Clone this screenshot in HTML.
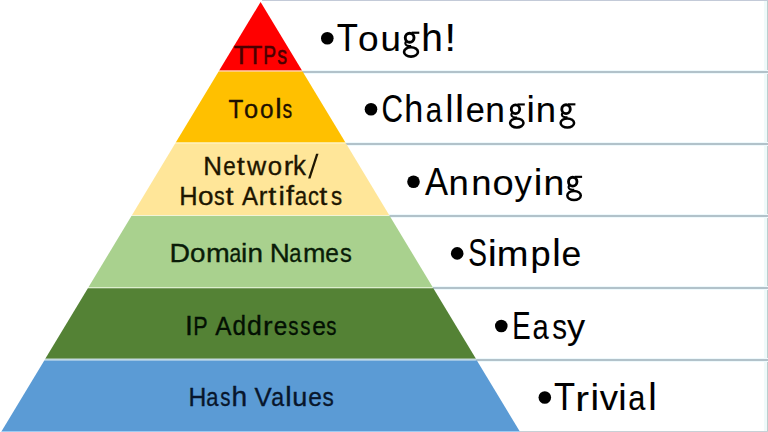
<!DOCTYPE html>
<html><head><meta charset="utf-8">
<style>
html,body{margin:0;padding:0;background:#fff;width:768px;height:432px;overflow:hidden}
svg{display:block;position:absolute;left:0;top:0}
text{font-family:"Liberation Sans",sans-serif}
</style></head><body>
<svg width="768" height="432" viewBox="0 0 768 432">
<rect x="764" y="1" width="3" height="431" fill="#effafa"/>
<rect x="767" y="0" width="1" height="432" fill="#bccece"/>
<rect x="262" y="0" width="506" height="1" fill="#c3cad8"/>
<rect x="301.8" y="70" width="466.2" height="4" fill="#eef9fc"/>
<rect x="301.8" y="71" width="466.2" height="2" fill="#b2c2ca"/>
<rect x="345.3" y="142" width="422.7" height="4" fill="#eef9fc"/>
<rect x="345.3" y="143" width="422.7" height="2" fill="#b2c2ca"/>
<rect x="388.7" y="214" width="379.3" height="4" fill="#eef9fc"/>
<rect x="388.7" y="215" width="379.3" height="2" fill="#b2c2ca"/>
<rect x="432.2" y="286" width="335.8" height="4" fill="#eef9fc"/>
<rect x="432.2" y="287" width="335.8" height="2" fill="#b2c2ca"/>
<rect x="475.7" y="358" width="292.3" height="4" fill="#eef9fc"/>
<rect x="475.7" y="359" width="292.3" height="2" fill="#b2c2ca"/>
<rect x="518.5" y="431" width="249.5" height="1" fill="#c8d0d6"/>
<polygon points="260.6,2.0 302.00,70.6 219.20,70.6" fill="#ff0000"/>
<polygon points="219.20,70.6 302.00,70.6 302.72,71.8 218.48,71.8" fill="#ffc080"/>
<polygon points="218.48,71.8 302.72,71.8 345.45,142.6 175.75,142.6" fill="#ffc000"/>
<polygon points="175.75,142.6 345.45,142.6 346.06,143.6 175.14,143.6" fill="#fff0a8"/>
<polygon points="175.14,143.6 346.06,143.6 389.15,215.0 132.05,215.0" fill="#ffe699"/>
<polygon points="132.05,215.0 389.15,215.0 389.75,216.0 131.45,216.0" fill="#f2f4d6"/>
<polygon points="131.45,216.0 389.75,216.0 432.60,287.0 88.60,287.0" fill="#a9d18e"/>
<polygon points="88.60,287.0 432.60,287.0 433.32,288.2 87.88,288.2" fill="#dcefcc"/>
<polygon points="87.88,288.2 433.32,288.2 475.93,358.8 45.27,358.8" fill="#548235"/>
<polygon points="45.27,358.8 475.93,358.8 476.89,360.4 44.31,360.4" fill="#c0d8e2"/>
<polygon points="44.31,360.4 476.89,360.4 519.50,431.0 1.70,431.0" fill="#5b9bd5"/>
<polygon points="1.70,431.0 519.50,431.0 520.11,432.0 1.10,432.0" fill="#9ccbf2"/>
<g fill="#4a0000" stroke="#4a0000" stroke-width="0.55" font-size="26.7">
<text x="250.27" y="63.60" transform="scale(0.9340,1.0)">T</text>
<text x="279.26" y="63.60" transform="scale(0.8876,1.0)">T</text>
<text x="365.77" y="63.60" transform="scale(0.7200,1.0)">P</text>
<text x="377.39" y="65.91" transform="scale(0.7344,0.965)">s</text>
</g>
<g fill="#1e1000" stroke="#1e1000" stroke-width="0.35" font-size="26.7">
<text x="251.86" y="118.20" transform="scale(0.9075,1.0)">T</text>
<text x="256.27" y="122.49" transform="scale(0.9519,0.965)">o</text>
<text x="285.00" y="122.49" transform="scale(0.9122,0.965)">o</text>
<text x="254.85" y="114.76" transform="scale(1.0800,1.03)">l</text>
<text x="391.62" y="122.49" transform="scale(0.7215,0.965)">s</text>
</g>
<g fill="#1e1600" stroke="#1e1600" stroke-width="0.35" font-size="26.7">
<text x="209.18" y="174.70" transform="scale(0.9722,1.0)">N</text>
<text x="266.50" y="181.04" transform="scale(0.8381,0.965)">e</text>
<text x="219.24" y="174.70" transform="scale(1.0800,1.0)">t</text>
<text x="248.14" y="181.04" transform="scale(0.9956,0.965)">w</text>
<text x="276.75" y="181.04" transform="scale(0.9677,0.965)">o</text>
<text x="264.85" y="181.04" transform="scale(1.0712,0.965)">r</text>
<text x="303.27" y="169.61" transform="scale(0.9664,1.03)">k</text>
</g>
<g fill="#1e1600" stroke="#1e1600" stroke-width="0.35" font-size="26.7">
<text x="188.23" y="205.30" transform="scale(0.9521,1.0)">H</text>
<text x="189.22" y="212.75" transform="scale(1.0470,0.965)">o</text>
<text x="267.90" y="212.75" transform="scale(0.7988,0.965)">s</text>
<text x="208.87" y="205.30" transform="scale(1.0800,1.0)">t</text>
</g>
<g fill="#1e1600" stroke="#1e1600" stroke-width="0.35" font-size="26.7">
<text x="269.41" y="205.30" transform="scale(0.8981,1.0)">A</text>
<text x="265.84" y="212.75" transform="scale(0.9738,0.965)">r</text>
<text x="248.32" y="205.30" transform="scale(1.0800,1.0)">t</text>
<text x="257.83" y="205.30" transform="scale(1.0800,1.0)">i</text>
<text x="264.83" y="199.32" transform="scale(1.0800,1.03)">f</text>
<text x="352.73" y="212.75" transform="scale(0.8356,0.965)">a</text>
<text x="377.28" y="212.75" transform="scale(0.8166,0.965)">c</text>
<text x="295.70" y="205.30" transform="scale(1.0800,1.0)">t</text>
<text x="397.37" y="212.75" transform="scale(0.8332,0.965)">s</text>
</g>
<g fill="#0a1c08" stroke="#0a1c08" stroke-width="0.35" font-size="26.7">
<text x="159.00" y="261.80" transform="scale(1.0655,1.0)">D</text>
<text x="182.09" y="271.30" transform="scale(1.0431,0.965)">o</text>
<text x="192.79" y="271.30" transform="scale(1.0690,0.965)">m</text>
<text x="291.26" y="271.30" transform="scale(0.7883,0.965)">a</text>
<text x="226.31" y="261.80" transform="scale(1.0653,1.0)">i</text>
<text x="236.80" y="271.30" transform="scale(1.0448,0.965)">n</text>
</g>
<g fill="#0a1c08" stroke="#0a1c08" stroke-width="0.35" font-size="26.7">
<text x="259.53" y="261.80" transform="scale(1.0393,1.0)">N</text>
<text x="352.95" y="271.30" transform="scale(0.8199,0.965)">a</text>
<text x="299.84" y="271.30" transform="scale(1.0102,0.965)">m</text>
<text x="354.46" y="271.30" transform="scale(0.9179,0.965)">e</text>
<text x="384.46" y="271.30" transform="scale(0.8847,0.965)">s</text>
</g>
<g fill="#031003" stroke="#031003" stroke-width="0.35" font-size="26.7">
<text x="173.82" y="334.70" transform="scale(1.0642,1.0)">I</text>
<text x="238.65" y="334.70" transform="scale(0.8093,1.0)">P</text>
</g>
<g fill="#031003" stroke="#031003" stroke-width="0.35" font-size="26.7">
<text x="235.92" y="334.70" transform="scale(0.9122,1.0)">A</text>
<text x="256.10" y="324.95" transform="scale(0.9078,1.03)">d</text>
<text x="247.03" y="324.95" transform="scale(0.9994,1.03)">d</text>
<text x="243.43" y="346.84" transform="scale(1.0800,0.965)">r</text>
<text x="300.76" y="346.84" transform="scale(0.9099,0.965)">e</text>
<text x="376.91" y="346.84" transform="scale(0.7645,0.965)">s</text>
<text x="392.60" y="346.84" transform="scale(0.7645,0.965)">s</text>
<text x="340.08" y="346.84" transform="scale(0.9179,0.965)">e</text>
<text x="429.10" y="346.84" transform="scale(0.7602,0.965)">s</text>
</g>
<g fill="#08162c" stroke="#08162c" stroke-width="0.35" font-size="26.7">
<text x="203.69" y="406.00" transform="scale(0.9253,1.0)">H</text>
<text x="251.71" y="420.73" transform="scale(0.8199,0.965)">a</text>
<text x="287.96" y="420.73" transform="scale(0.7645,0.965)">s</text>
<text x="219.17" y="394.17" transform="scale(1.0565,1.03)">h</text>
</g>
<g fill="#08162c" stroke="#08162c" stroke-width="0.35" font-size="26.7">
<text x="263.18" y="406.00" transform="scale(0.9673,1.0)">V</text>
<text x="312.76" y="420.73" transform="scale(0.8672,0.965)">a</text>
<text x="264.02" y="394.17" transform="scale(1.0800,1.03)">l</text>
<text x="288.33" y="420.73" transform="scale(1.0139,0.965)">u</text>
<text x="335.94" y="420.73" transform="scale(0.9179,0.965)">e</text>
<text x="383.09" y="420.73" transform="scale(0.8418,0.965)">s</text>
</g>
<g fill="#000" stroke="#000" stroke-width="0.1" font-size="38.3">
<text x="372.04" y="51.25" transform="scale(0.9051,1.0)">T</text>
<text x="369.99" y="55.71" transform="scale(0.9677,0.92)">o</text>
<text x="396.86" y="55.71" transform="scale(0.9588,0.92)">u</text>
<text x="415.08" y="49.76" transform="scale(1.0150,1.03)">h</text>
<text x="411.68" y="51.25" transform="scale(1.0800,1.0)">!</text>
</g>
<g fill="#000" stroke="#000" stroke-width="0.1" font-size="38.3">
<text x="489.71" y="122.30" transform="scale(0.7792,1.0)">C</text>
<text x="453.69" y="118.74" transform="scale(0.8912,1.03)">h</text>
<text x="553.36" y="132.93" transform="scale(0.7694,0.92)">a</text>
<text x="483.78" y="118.74" transform="scale(0.9209,1.03)">l</text>
<text x="425.40" y="118.74" transform="scale(1.0695,1.03)">l</text>
<text x="519.89" y="132.93" transform="scale(0.8958,0.92)">e</text>
<text x="526.50" y="132.93" transform="scale(0.9219,0.92)">n</text>
<text x="537.05" y="127.40" transform="scale(0.9803,0.96)">i</text>
<text x="562.39" y="132.93" transform="scale(0.9527,0.92)">n</text>
</g>
<g fill="#000" stroke="#000" stroke-width="0.1" font-size="38.3">
<text x="471.25" y="194.80" transform="scale(0.9017,1.0)">A</text>
<text x="470.86" y="211.74" transform="scale(0.9527,0.92)">n</text>
<text x="494.58" y="211.74" transform="scale(0.9527,0.92)">n</text>
<text x="494.90" y="211.74" transform="scale(0.9954,0.92)">o</text>
<text x="567.70" y="211.74" transform="scale(0.9061,0.92)">y</text>
<text x="528.41" y="202.92" transform="scale(1.0100,0.96)">i</text>
<text x="556.06" y="211.74" transform="scale(0.9773,0.92)">n</text>
</g>
<g fill="#000" stroke="#000" stroke-width="0.1" font-size="38.3">
<text x="637.26" y="266.40" transform="scale(0.7347,1.0)">S</text>
<text x="455.99" y="277.50" transform="scale(1.0695,0.96)">i</text>
<text x="499.30" y="289.57" transform="scale(0.9949,0.92)">m</text>
<text x="560.42" y="289.57" transform="scale(0.9464,0.92)">p</text>
<text x="554.85" y="258.64" transform="scale(0.9952,1.03)">l</text>
<text x="606.18" y="289.57" transform="scale(0.9265,0.92)">e</text>
</g>
<g fill="#000" stroke="#000" stroke-width="0.1" font-size="38.3">
<text x="711.31" y="339.00" transform="scale(0.7200,1.0)">E</text>
<text x="699.62" y="368.48" transform="scale(0.7611,0.92)">a</text>
<text x="714.97" y="368.48" transform="scale(0.7724,0.92)">s</text>
<text x="599.76" y="368.48" transform="scale(0.9456,0.92)">y</text>
</g>
<g fill="#000" stroke="#000" stroke-width="0.1" font-size="38.3">
<text x="615.39" y="410.50" transform="scale(0.9004,1.0)">T</text>
<text x="532.76" y="446.20" transform="scale(1.0800,0.92)">r</text>
<text x="584.64" y="427.60" transform="scale(1.0100,0.96)">i</text>
<text x="625.79" y="446.20" transform="scale(0.9583,0.92)">v</text>
<text x="630.59" y="427.60" transform="scale(0.9803,0.96)">i</text>
<text x="782.93" y="446.20" transform="scale(0.8024,0.92)">a</text>
<text x="651.32" y="398.54" transform="scale(0.9952,1.03)">l</text>
</g>
<g transform="translate(400.59,51.25) scale(1.0061)" fill="none" stroke="#000"><ellipse cx="9.0" cy="-13.45" rx="4.35" ry="4.5" stroke-width="2.9"/><path d="M11.0,-18.4 H18.6" stroke-width="2.2"/><path d="M5.8,-10.0 C4.4,-8.8 4.2,-6.6 6.4,-5.6 C7.6,-5.1 9.0,-5.0 10.5,-5.0" stroke-width="2.2"/><ellipse cx="10.35" cy="0.7" rx="6.9" ry="4.65" stroke-width="2.6"/></g>
<g transform="translate(506.76,122.3) scale(0.9697)" fill="none" stroke="#000"><ellipse cx="9.0" cy="-13.45" rx="4.35" ry="4.5" stroke-width="2.9"/><path d="M11.0,-18.4 H18.6" stroke-width="2.2"/><path d="M5.8,-10.0 C4.4,-8.8 4.2,-6.6 6.4,-5.6 C7.6,-5.1 9.0,-5.0 10.5,-5.0" stroke-width="2.2"/><ellipse cx="10.35" cy="0.7" rx="6.9" ry="4.65" stroke-width="2.6"/></g>
<g transform="translate(557.25,122.3) scale(0.9758)" fill="none" stroke="#000"><ellipse cx="9.0" cy="-13.45" rx="4.35" ry="4.5" stroke-width="2.9"/><path d="M11.0,-18.4 H18.6" stroke-width="2.2"/><path d="M5.8,-10.0 C4.4,-8.8 4.2,-6.6 6.4,-5.6 C7.6,-5.1 9.0,-5.0 10.5,-5.0" stroke-width="2.2"/><ellipse cx="10.35" cy="0.7" rx="6.9" ry="4.65" stroke-width="2.6"/></g>
<g transform="translate(563.95,194.8) scale(0.9758)" fill="none" stroke="#000"><ellipse cx="9.0" cy="-13.45" rx="4.35" ry="4.5" stroke-width="2.9"/><path d="M11.0,-18.4 H18.6" stroke-width="2.2"/><path d="M5.8,-10.0 C4.4,-8.8 4.2,-6.6 6.4,-5.6 C7.6,-5.1 9.0,-5.0 10.5,-5.0" stroke-width="2.2"/><ellipse cx="10.35" cy="0.7" rx="6.9" ry="4.65" stroke-width="2.6"/></g>
<polygon points="308.1,178.5 310.5,178.5 318.5,153.8 316.1,153.8" fill="#1e1600"/>
<circle cx="327.3" cy="38.25" r="6.3" fill="#000"/>
<circle cx="371.0" cy="109.30" r="6.3" fill="#000"/>
<circle cx="413.5" cy="181.80" r="6.3" fill="#000"/>
<circle cx="457.2" cy="253.40" r="6.3" fill="#000"/>
<circle cx="501.3" cy="326.00" r="6.3" fill="#000"/>
<circle cx="544.8" cy="397.50" r="6.3" fill="#000"/>
</svg>
</body></html>
